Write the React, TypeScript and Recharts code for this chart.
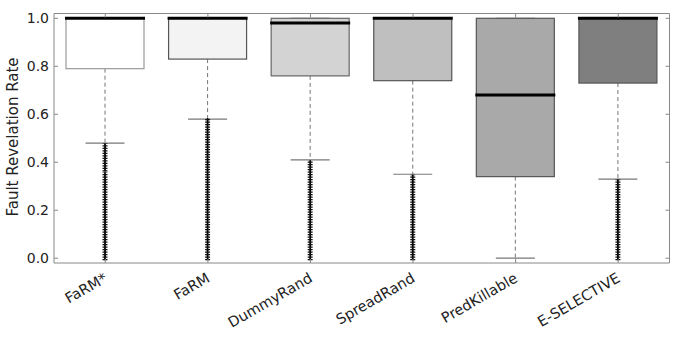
import React from 'react';
import { ComposedChart, Bar, XAxis, YAxis } from 'recharts';

const categories = ['FaRM*', 'FaRM', 'DummyRand', 'SpreadRand', 'PredKillable', 'E-SELECTIVE'];
const whiskerLow = [0.48, 0.58, 0.41, 0.35, 0.0, 0.33];
const q1 = [0.79, 0.83, 0.76, 0.74, 0.34, 0.73];
const median = [1.0, 1.0, 0.98, 1.0, 0.68, 1.0];
const q3 = [1.0, 1.0, 1.0, 1.0, 1.0, 1.0];
const whiskerHigh = [1.0, 1.0, 1.0, 1.0, 1.0, 1.0];
const outlierRanges: number[][][] = [
  [[0, 0.35], [0.37, 0.47]],
  [[0, 0.575]],
  [[0, 0.4]],
  [[0, 0.34]],
  [],
  [[0, 0.32]],
];
const yTicks = [0, 0.2, 0.4, 0.6, 0.8, 1.0];

const boxFills = ['#ffffff', '#f3f3f3', '#d3d3d3', '#bfbfbf', '#a9a9a9', '#7f7f7f'];
const boxStrokes = ['#999999', '#555555', '#666666', '#555555', '#555555', '#555555'];

const data = categories.map((name, i) => ({
  name,
  whiskerLow: whiskerLow[i],
  q1: q1[i],
  median: median[i],
  q3: q3[i],
  whiskerHigh: whiskerHigh[i],
  outliers: outlierRanges[i],
  fill: boxFills[i],
  stroke: boxStrokes[i],
}));

const W = 676;
const H = 338;
const M = { top: 0, right: 0, bottom: 0, left: 0 };
const LEFT_W = 54;
const RIGHT_W = 6.5;
const TOP_H = 13.5;
const BOTTOM_H = 75;
const PLOT_RIGHT = W - RIGHT_W;
const PLOT_TOP = TOP_H;
const PLOT_BOTTOM = H - BOTTOM_H;
const FONT = '"DejaVu Sans", sans-serif';
const AXIS_COLOR = '#888888';

const BoxShape = (props: any) => {
  const { x, y, width, height, payload } = props;
  const lo = payload.whiskerLow;
  const hi = payload.whiskerHigh;
  const top = Math.min(y, y + height);
  const bot = Math.max(y, y + height);
  const sy = (v: number) => top + ((bot - top) * (hi - v)) / (hi - lo);
  const cx = x + width / 2;
  const capHalf = width * 0.25;
  const yQ1 = sy(payload.q1);
  const yQ3 = sy(payload.q3);
  return (
    <g>
      <line x1={cx} x2={cx} y1={yQ1} y2={sy(payload.whiskerLow)} stroke="#777" strokeWidth={1} strokeDasharray="4 3" />
      <line x1={cx} x2={cx} y1={yQ3} y2={sy(payload.whiskerHigh)} stroke="#777" strokeWidth={1} strokeDasharray="4 3" />
      <line x1={cx - capHalf} x2={cx + capHalf} y1={sy(payload.whiskerLow)} y2={sy(payload.whiskerLow)} stroke="#777" strokeWidth={1.2} />
      <line x1={cx - capHalf} x2={cx + capHalf} y1={sy(payload.whiskerHigh)} y2={sy(payload.whiskerHigh)} stroke="#777" strokeWidth={1.2} />
      <rect x={x} y={yQ3} width={width} height={yQ1 - yQ3} fill={payload.fill} stroke={payload.stroke} strokeWidth={1.2} />
      <line x1={x - 1} x2={x + width + 1} y1={sy(payload.median)} y2={sy(payload.median)} stroke="#000" strokeWidth={3} />
      {payload.outliers.map((r: number[], k: number) => (
        <g key={k}>
          <line x1={cx} x2={cx} y1={sy(r[0]) + 2} y2={sy(r[1]) - 2} stroke="#000" strokeWidth={1.8} />
          <line x1={cx} x2={cx} y1={sy(r[0]) + 2} y2={sy(r[1]) - 2} stroke="#111" strokeWidth={5} strokeDasharray="1.2 1.3" />
        </g>
      ))}
    </g>
  );
};

const YTick = (props: any) => {
  const { x, y, payload } = props;
  return (
    <g>
      <line x1={x} x2={x + 4} y1={y} y2={y} stroke={AXIS_COLOR} strokeWidth={1} />
      <line x1={PLOT_RIGHT - 4} x2={PLOT_RIGHT} y1={y} y2={y} stroke={AXIS_COLOR} strokeWidth={1} />
      <text x={x - 5} y={y} textAnchor="end" dominantBaseline="central" fontFamily={FONT} fontSize={14} fill="#222">
        {Number(payload.value).toFixed(1)}
      </text>
    </g>
  );
};

const XTick = (props: any) => {
  const { x, payload } = props;
  const ax = x + 3;
  const ay = PLOT_BOTTOM + 18;
  return (
    <g>
      <line x1={x} x2={x} y1={PLOT_BOTTOM} y2={PLOT_BOTTOM - 4} stroke={AXIS_COLOR} strokeWidth={1} />
      <line x1={x} x2={x} y1={PLOT_TOP} y2={PLOT_TOP + 4} stroke={AXIS_COLOR} strokeWidth={1} />
      <text x={ax} y={ay} textAnchor="end" transform={`rotate(-30, ${ax}, ${ay})`} fontFamily={FONT} fontSize={14.5} fill="#222">
        {payload.value}
      </text>
    </g>
  );
};

const YLabel = () => (
  <text x={13} y={137} textAnchor="middle" dominantBaseline="central" transform="rotate(-90 13 137)" fontFamily={FONT} fontSize={15} fill="#222">
    Fault Revelation Rate
  </text>
);

export default function App() {
  return (
    <div style={{ position: 'absolute', left: 0, top: 0, width: W, height: H, background: '#fff' }}>
      <ComposedChart width={W} height={H} data={data} margin={M}>
        <XAxis
          dataKey="name"
          type="category"
          height={BOTTOM_H}
          tickSize={0}
          tickMargin={0}
          tickLine={false}
          axisLine={{ stroke: AXIS_COLOR, strokeWidth: 1 }}
          tick={<XTick />}
          interval={0}
        />
        <XAxis
          xAxisId="top"
          dataKey="name"
          type="category"
          orientation="top"
          height={TOP_H}
          tick={false}
          tickLine={false}
          axisLine={{ stroke: AXIS_COLOR, strokeWidth: 1 }}
        />
        <YAxis
          type="number"
          domain={[-0.02, 1.02]}
          ticks={yTicks}
          width={LEFT_W}
          tickSize={0}
          tickMargin={0}
          tickLine={false}
          axisLine={{ stroke: AXIS_COLOR, strokeWidth: 1 }}
          tick={<YTick />}
          interval={0}
          allowDataOverflow
          label={<YLabel />}
        />
        <YAxis
          yAxisId="right"
          type="number"
          orientation="right"
          domain={[-0.02, 1.02]}
          width={RIGHT_W}
          tick={false}
          tickLine={false}
          axisLine={{ stroke: AXIS_COLOR, strokeWidth: 1 }}
        />
        <Bar
          dataKey={(d: any) => [d.whiskerLow, d.whiskerHigh]}
          barSize={78}
          shape={<BoxShape />}
          isAnimationActive={false}
        />
      </ComposedChart>
    </div>
  );
}
